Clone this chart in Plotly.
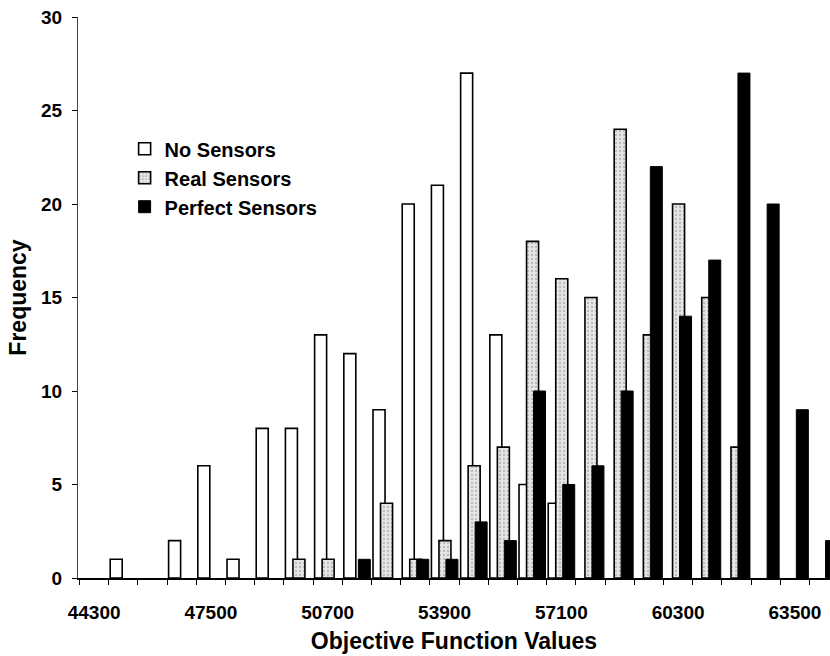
import plotly.graph_objects as go

# Histogram bins (objective function value at the centre of each bin)
bins = [44300, 45100, 45900, 46700, 47500, 48300, 49100, 49900, 50700,
        51500, 52300, 53100, 53900, 54700, 55500, 56300, 57100, 57900,
        58700, 59500, 60300, 61100, 61900, 62700, 63500, 64300]

# Frequency counts per bin for each sensor configuration
no_sensors = [0, 1, 0, 2, 6, 1, 8, 8, 13, 12, 9, 20, 21, 27, 13, 5, 4, 0,
              0, 0, 0, 0, 0, 0, 0, 0]
real_sensors = [0, 0, 0, 0, 0, 0, 0, 1, 1, 0, 4, 1, 2, 6, 7, 18, 16, 15,
                24, 13, 20, 15, 7, 0, 0, 0]
perfect_sensors = [0, 0, 0, 0, 0, 0, 0, 0, 0, 1, 0, 1, 1, 3, 2, 10, 5, 6,
                   10, 22, 14, 17, 27, 20, 9, 2]

x_labels = [44300, 47500, 50700, 53900, 57100, 60300, 63500]

series_names = ["No Sensors", "Real Sensors", "Perfect Sensors"]

BIN_WIDTH = 800
BAR_WIDTH = 329             # in data units
OFFSETS = [-359, -153, 38]  # bars overlap inside each bin

FONT = "Liberation Sans, Arial, sans-serif"


def nonzero(counts):
    # empty bins are left out so no outline is drawn on the baseline
    return [c if c else None for c in counts]


fig = go.Figure()

fig.add_trace(go.Bar(
    x=bins, y=nonzero(no_sensors), name=series_names[0],
    width=BAR_WIDTH, offset=OFFSETS[0],
    marker=dict(color="white", line=dict(color="black", width=1.6)),
))
fig.add_trace(go.Bar(
    x=bins, y=nonzero(real_sensors), name=series_names[1],
    width=BAR_WIDTH, offset=OFFSETS[1],
    marker=dict(color="#e6e6e6",
                line=dict(color="black", width=1.6),
                pattern=dict(shape=".", fgcolor="#8a8a8a", bgcolor="#e6e6e6",
                             size=4, solidity=0.25)),
))
fig.add_trace(go.Bar(
    x=bins, y=nonzero(perfect_sensors), name=series_names[2],
    width=BAR_WIDTH, offset=OFFSETS[2],
    marker=dict(color="black", line=dict(color="black", width=1)),
))

fig.update_layout(
    width=830, height=656,
    margin=dict(l=78, r=0, t=17, b=78),
    barmode="overlay",
    plot_bgcolor="white", paper_bgcolor="white",
    font=dict(family=FONT, color="black"),
    showlegend=True,
    legend=dict(
        x=0.062, y=0.80, xanchor="left", yanchor="top",
        bgcolor="rgba(0,0,0,0)",
        font=dict(family=FONT, size=20, color="black", weight="bold"),
        traceorder="normal",
        itemwidth=30,
        tracegroupgap=0,
    ),
)

fig.update_xaxes(
    range=[43859, 64460],
    tickvals=x_labels,
    ticktext=[str(v) for v in x_labels],
    ticks="",
    ticklabelstandoff=16,
    tickfont=dict(family=FONT, size=19, color="black", weight="bold"),
    minor=dict(ticks="outside", ticklen=5, tickcolor="black",
               tick0=bins[0] - BIN_WIDTH / 2, dtick=BIN_WIDTH, showgrid=False),
    showline=True, linecolor="black", linewidth=1.5,
    showgrid=False, zeroline=False,
    title=dict(text="Objective Function Values",
               font=dict(family=FONT, size=23, color="black", weight="bold"),
               standoff=11),
)

fig.update_yaxes(
    range=[0, 30], dtick=5,
    ticks="outside", ticklen=5, tickcolor="black",
    ticklabelstandoff=6,
    tickfont=dict(family=FONT, size=19, color="black", weight="bold"),
    showline=True, linecolor="#444444", linewidth=1,
    showgrid=False, zeroline=False,
    title=dict(text="Frequency",
               font=dict(family=FONT, size=23, color="black", weight="bold"),
               standoff=8),
)

fig.write_html("out.html")
